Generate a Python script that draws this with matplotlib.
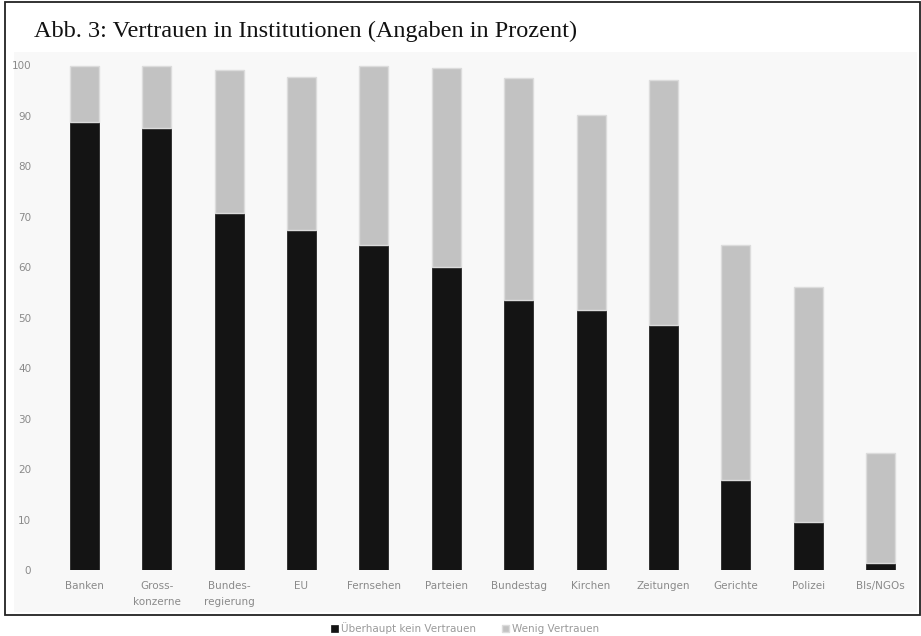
import numpy as np
import matplotlib.pyplot as plt
from matplotlib.patches import Rectangle

institutionen = ["Banken", "Gross-\nkonzerne", "Bundes-\nregierung", "EU", "Fernsehen",
                 "Parteien", "Bundestag", "Kirchen", "Zeitungen", "Gerichte",
                 "Polizei", "BIs/NGOs"]
kein_vertrauen = [88.7, 87.5, 70.7, 67.3, 64.4, 60.0, 53.5, 51.5, 48.5, 17.8, 9.5, 1.4]
wenig_vertrauen = [11.1, 12.3, 28.3, 30.3, 35.4, 39.4, 43.9, 38.6, 48.5, 46.6, 46.5, 21.8]
yticks = [0, 10, 20, 30, 40, 50, 60, 70, 80, 90, 100]

W, H = 921, 636
fig = plt.figure(figsize=(W / 100, H / 100), dpi=100)
fig.patch.set_facecolor("white")

# faint grey chart background (behind the axes), then the frame round the whole figure
fig.patches.append(Rectangle((14 / W, 1 - 612 / H), 903 / W, 560 / H, transform=fig.transFigure,
                             facecolor="#f8f8f8", edgecolor="none", zorder=-5))
fig.patches.append(Rectangle((5 / W, 1 - 615 / H), 915 / W, 613 / H, transform=fig.transFigure,
                             fill=False, edgecolor="#222222", linewidth=1.3, zorder=5))

ax = fig.add_axes([48 / W, 1 - 570 / H, (917 - 48) / W, (570 - 55) / H])
ax.patch.set_visible(False)
x = np.arange(len(institutionen))
b1 = ax.bar(x, kein_vertrauen, width=0.4, color="#141414", edgecolor="#141414", linewidth=0.5,
            label="Überhaupt kein Vertrauen")
b2 = ax.bar(x, wenig_vertrauen, width=0.4, bottom=kein_vertrauen, color="#c2c2c2",
            edgecolor="#dcdcdc", linewidth=1.0, label="Wenig Vertrauen")

ax.set_xlim(-0.5, len(institutionen) - 0.5)
ax.set_ylim(0, 102)
ax.set_yticks(yticks)
ax.set_xticks(x)
ax.set_xticklabels(institutionen, fontsize=7.5, color="#8a8a8a", linespacing=1.7)
ax.tick_params(axis="y", labelsize=7.5, labelcolor="#8a8a8a", length=0, pad=12)
ax.tick_params(axis="x", length=0, pad=8)
for s in ax.spines.values():
    s.set_visible(False)

fig.text(34 / W, 1 - 37 / H, "Abb. 3: Vertrauen in Institutionen (Angaben in Prozent)",
         family="Liberation Serif", fontsize=17.5, va="baseline", ha="left", color="#111111")

leg = fig.legend(handles=[b1, b2], loc="center", bbox_to_anchor=(465 / W, 1 - 628 / H), ncol=2,
                 frameon=False, fontsize=7.5, handlelength=0.7, handleheight=0.7,
                 handletextpad=0.3, columnspacing=2.5)
for t in leg.get_texts():
    t.set_color("#9a9a9a")

fig.savefig("out.png", dpi=100)
